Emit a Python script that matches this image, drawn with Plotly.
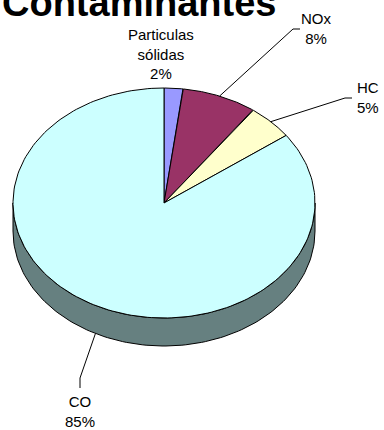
import numpy as np
import plotly.graph_objects as go

# Pollutant shares (percent), clockwise from 12 o'clock
labels = ["Particulas<br>sólidas", "NOx", "HC", "CO"]
values = [2, 8, 5, 85]
top_colors = ["#9999FF", "#993366", "#FFFFCC", "#CCFFFF"]
side_colors = ["#4D4D80", "#4D1A33", "#808066", "#668080"]

W, H = 384, 430
cx, cy = 164, 203        # centre of the pie's top face
rx, ry = 151, 115        # ellipse radii of the tilted pie
depth = 28               # thickness of the pie

def pt(theta_deg, dz=0.0):
    t = np.radians(theta_deg)
    return cx + rx * np.sin(t), cy - ry * np.cos(t) + dz

fig = go.Figure()

total = float(sum(values))
bounds = np.concatenate([[0.0], np.cumsum(values) / total * 360.0])

# side wall: visible front half (90..270 deg), drawn per slice that covers it
for i in range(len(values)):
    a0, a1 = max(bounds[i], 90.0), min(bounds[i + 1], 270.0)
    if a1 <= a0:
        continue
    th = np.linspace(a0, a1, 120)
    xt, yt = pt(th)
    xb, yb = pt(th[::-1], depth)
    fig.add_trace(go.Scatter(
        x=np.concatenate([xt, xb, xt[:1]]), y=np.concatenate([yt, yb, yt[:1]]),
        mode="lines", fill="toself", fillcolor=side_colors[i],
        line=dict(color="black", width=1), hoverinfo="skip", showlegend=False))

# top face slices
for i in range(len(values)):
    th = np.linspace(bounds[i], bounds[i + 1], 200)
    xs, ys = pt(th)
    fig.add_trace(go.Scatter(
        x=np.concatenate([[cx], xs, [cx]]), y=np.concatenate([[cy], ys, [cy]]),
        mode="lines", fill="toself", fillcolor=top_colors[i],
        line=dict(color="black", width=1), hoverinfo="skip", showlegend=False))

font = dict(family="Liberation Sans, Arial, sans-serif", size=15, color="black")

# label placements: text centre, and leader elbow points (None = no leader)
label_pos = [
    (161, 54, None),
    (316, 28, [(293, 29), (300, 29)]),
    (368, 97, [(345, 98), (352, 98)]),
    (80, 411, [(80, 378), (80, 388)]),
]

for i, (lx, ly, elbow) in enumerate(label_pos):
    pct = round(values[i] / total * 100)
    fig.add_annotation(x=lx, y=ly, text=f"{labels[i]}<br>{pct}%", showarrow=False,
                       xanchor="center", yanchor="middle", font=font)
    if elbow:
        mid = (bounds[i] + bounds[i + 1]) / 2.0
        sx, sy = pt(mid, depth if 90 < mid < 270 else 0)
        xs = [sx] + [p[0] for p in elbow]
        ys = [sy] + [p[1] for p in elbow]
        fig.add_trace(go.Scatter(x=xs, y=ys, mode="lines",
                                 line=dict(color="black", width=1),
                                 hoverinfo="skip", showlegend=False))

# chart title, partly running off the top edge
fig.add_annotation(x=139, y=26, text="<b>Contaminantes</b>", showarrow=False,
                   xanchor="center", yanchor="bottom",
                   font=dict(family="Liberation Sans, Arial, sans-serif", size=38, color="black"))

fig.update_layout(
    width=W, height=H, margin=dict(l=0, r=0, t=0, b=0),
    paper_bgcolor="white", plot_bgcolor="white",
    xaxis=dict(range=[0, W], visible=False, fixedrange=True),
    yaxis=dict(range=[H, 0], visible=False, fixedrange=True),
)

fig.write_html("out.html")
